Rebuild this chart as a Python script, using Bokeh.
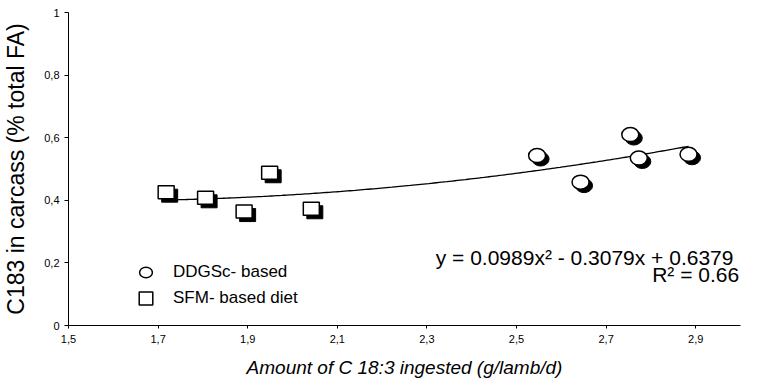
import numpy as np
from bokeh.plotting import figure
from bokeh.models import (Range1d, FixedTicker, Label, Legend, LegendItem)
from bokeh.embed import file_html
from bokeh.resources import INLINE

# ---- data ----
ddgs_x = [2.546, 2.643, 2.754, 2.773, 2.884]
ddgs_y = [0.543, 0.458, 0.610, 0.535, 0.547]
sfm_x = [1.718, 1.806, 1.949, 1.892, 2.042]
sfm_y = [0.426, 0.408, 0.488, 0.364, 0.373]

# trend line: y = 0.0989x^2 - 0.3079x + 0.6379
trend_coef = [0.0989, -0.3079, 0.6379]
r2_text = "R² = 0.66"
eq_text = "y = 0.0989x² - 0.3079x + 0.6379"

x_ticks = [1.5, 1.7, 1.9, 2.1, 2.3, 2.5, 2.7, 2.9]
x_tick_labels = ["1,5", "1,7", "1,9", "2,1", "2,3", "2,5", "2,7", "2,9"]
y_ticks = [0, 0.2, 0.4, 0.6, 0.8, 1.0]
y_tick_labels = ["0", "0,2", "0,4", "0,6", "0,8", "1"]

FONT = "Liberation Sans"
X0, X1, Y0, Y1 = 1.5, 3.0, 0.0, 1.0
W, H = 762, 384
BL, BR, BT, BB = 68, 22, 12, 59

p = figure(width=W, height=H, output_backend="svg", toolbar_location=None,
           x_range=Range1d(X0, X1), y_range=Range1d(Y0, Y1),
           min_border_left=BL, min_border_right=BR,
           min_border_top=BT, min_border_bottom=BB)
p.outline_line_color = None
p.xgrid.visible = False
p.ygrid.visible = False
p.background_fill_color = "white"
p.border_fill_color = "white"

# pixel->data conversion for shadow offset
frame_w = W - BL - BR
frame_h = H - BT - BB
sdx = 3.5 * (X1 - X0) / frame_w
sdy = 3.5 * (Y1 - Y0) / frame_h

# trend line
tx = np.linspace(min(sfm_x + ddgs_x), max(sfm_x + ddgs_x), 200)
ty = np.polyval(trend_coef, tx)
p.line(tx, ty, line_color="black", line_width=1.3)

MW, MH = 17, 14
# shadows
p.ellipse(x=[v + sdx for v in ddgs_x], y=[v - sdy for v in ddgs_y],
          width=MW, height=MH, width_units="screen", height_units="screen",
          fill_color="black", line_color="black")
p.rect(x=[v + sdx for v in sfm_x], y=[v - sdy for v in sfm_y],
       width=16, height=13, width_units="screen", height_units="screen",
       fill_color="black", line_color="black")

# front markers
r_d = p.ellipse(x=ddgs_x, y=ddgs_y, width=MW, height=MH,
                width_units="screen", height_units="screen",
                fill_color="white", line_color="black", line_width=1.5)
r_s = p.rect(x=sfm_x, y=sfm_y, width=16, height=13,
             width_units="screen", height_units="screen",
             fill_color="white", line_color="black", line_width=1.5)

legend = Legend(items=[LegendItem(label="DDGSc- based", renderers=[r_d]),
                       LegendItem(label="SFM- based diet", renderers=[r_s])],
                location=(69, 17), padding=0, margin=0, spacing=6,
                glyph_width=17, glyph_height=16, label_height=20,
                label_standoff=19, label_text_font=FONT,
                label_text_font_size="17px", label_text_color="black",
                background_fill_alpha=0, border_line_color=None)
p.add_layout(legend, "center")

# axes
xa = p.xaxis[0]
xa.ticker = FixedTicker(ticks=x_ticks)
xa.major_label_overrides = {t: l for t, l in zip(x_ticks, x_tick_labels)}
xa.minor_tick_line_color = None
xa.major_tick_in = 0
xa.major_tick_out = 3
xa.major_label_standoff = 6
xa.major_label_text_font = FONT
xa.major_label_text_font_size = "11px"
xa.major_label_text_color = "black"
xa.axis_line_color = "black"
xa.major_tick_line_color = "black"
xa.axis_label = "Amount of C 18:3 ingested (g/lamb/d)"
xa.axis_label_text_font = FONT
xa.axis_label_text_font_style = "italic"
xa.axis_label_text_font_size = "19px"
xa.axis_label_text_color = "black"
xa.axis_label_standoff = 11

ya = p.yaxis[0]
ya.ticker = FixedTicker(ticks=y_ticks)
ya.major_label_overrides = {t: l for t, l in zip(y_ticks, y_tick_labels)}
ya.minor_tick_line_color = None
ya.major_tick_in = 0
ya.major_tick_out = 4
ya.major_label_standoff = 5
ya.major_label_text_font = FONT
ya.major_label_text_font_size = "11px"
ya.major_label_text_color = "black"
ya.axis_line_color = "black"
ya.major_tick_line_color = "black"
ya.axis_label = "C183 in carcass (% total FA)"
ya.axis_label_text_font = FONT
ya.axis_label_text_font_style = "normal"
ya.axis_label_text_font_size = "23px"
ya.axis_label_text_color = "black"
ya.axis_label_standoff = 12

# equation labels
p.add_layout(Label(x=2.652, y=0.218, text=eq_text, text_align="center",
                   text_baseline="middle", text_font=FONT,
                   text_font_size="21px", text_color="black"))
p.add_layout(Label(x=2.997, y=0.162, text=r2_text, text_align="right",
                   text_baseline="middle", text_font=FONT,
                   text_font_size="21px", text_color="black"))

open("out.html", "w").write(file_html(p, INLINE))
